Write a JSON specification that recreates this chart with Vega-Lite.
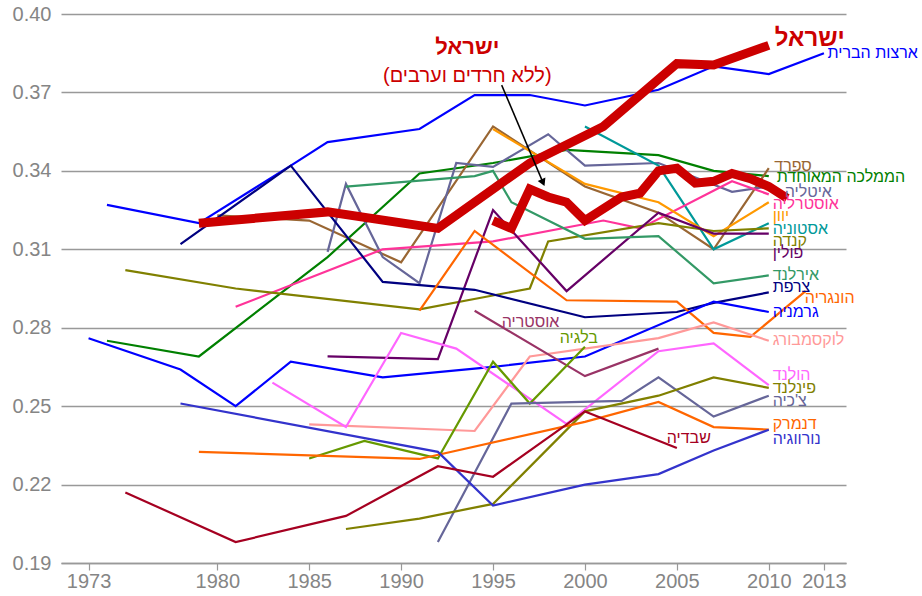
{
  "$schema": "https://vega.github.io/schema/vega-lite/v6.json",
  "width": 785,
  "height": 549,
  "autosize": "none",
  "padding": {"left": 61, "top": 14, "right": 76, "bottom": 33},
  "background": "white",
  "config": {
    "view": {"stroke": null},
    "font": "Liberation Sans",
    "axis": {"labelFont": "Liberation Sans", "labelFontSize": 20, "labelColor": "#858585"}
  },
  "datasets": {
    "countries": [
      {"c": "ארצות הברית", "y": 1974, "v": 0.327}, {"c": "ארצות הברית", "y": 1979, "v": 0.320}, {"c": "ארצות הברית", "y": 1984, "v": 0.342}, {"c": "ארצות הברית", "y": 1986, "v": 0.351}, {"c": "ארצות הברית", "y": 1991, "v": 0.356}, {"c": "ארצות הברית", "y": 1994, "v": 0.369}, {"c": "ארצות הברית", "y": 1997, "v": 0.369}, {"c": "ארצות הברית", "y": 2000, "v": 0.365}, {"c": "ארצות הברית", "y": 2004, "v": 0.371}, {"c": "ארצות הברית", "y": 2007, "v": 0.380}, {"c": "ארצות הברית", "y": 2010, "v": 0.377}, {"c": "ארצות הברית", "y": 2013, "v": 0.385},
      {"c": "הממלכה המאוחדת", "y": 1974, "v": 0.275}, {"c": "הממלכה המאוחדת", "y": 1979, "v": 0.269}, {"c": "הממלכה המאוחדת", "y": 1986, "v": 0.307}, {"c": "הממלכה המאוחדת", "y": 1991, "v": 0.339}, {"c": "הממלכה המאוחדת", "y": 1995, "v": 0.343}, {"c": "הממלכה המאוחדת", "y": 1999, "v": 0.348}, {"c": "הממלכה המאוחדת", "y": 2004, "v": 0.346}, {"c": "הממלכה המאוחדת", "y": 2007, "v": 0.340}, {"c": "הממלכה המאוחדת", "y": 2010, "v": 0.338},
      {"c": "ספרד", "y": 1980, "v": 0.323}, {"c": "ספרד", "y": 1985, "v": 0.321}, {"c": "ספרד", "y": 1990, "v": 0.305}, {"c": "ספרד", "y": 1995, "v": 0.357}, {"c": "ספרד", "y": 2000, "v": 0.334}, {"c": "ספרד", "y": 2004, "v": 0.324}, {"c": "ספרד", "y": 2007, "v": 0.310}, {"c": "ספרד", "y": 2010, "v": 0.341},
      {"c": "איטליה", "y": 1986, "v": 0.309}, {"c": "איטליה", "y": 1987, "v": 0.335}, {"c": "איטליה", "y": 1989, "v": 0.307}, {"c": "איטליה", "y": 1991, "v": 0.297}, {"c": "איטליה", "y": 1993, "v": 0.343}, {"c": "איטליה", "y": 1995, "v": 0.3415}, {"c": "איטליה", "y": 1998, "v": 0.354}, {"c": "איטליה", "y": 2000, "v": 0.342}, {"c": "איטליה", "y": 2004, "v": 0.343}, {"c": "איטליה", "y": 2008, "v": 0.332}, {"c": "איטליה", "y": 2010, "v": 0.334},
      {"c": "אסטוניה", "y": 2000, "v": 0.357}, {"c": "אסטוניה", "y": 2004, "v": 0.342}, {"c": "אסטוניה", "y": 2007, "v": 0.310}, {"c": "אסטוניה", "y": 2010, "v": 0.320},
      {"c": "אוסטרליה", "y": 1981, "v": 0.288}, {"c": "אוסטרליה", "y": 1989, "v": 0.310}, {"c": "אוסטרליה", "y": 1995, "v": 0.313}, {"c": "אוסטרליה", "y": 2001, "v": 0.321}, {"c": "אוסטרליה", "y": 2003, "v": 0.318}, {"c": "אוסטרליה", "y": 2008, "v": 0.336}, {"c": "אוסטרליה", "y": 2010, "v": 0.331},
      {"c": "יוון", "y": 1995, "v": 0.356}, {"c": "יוון", "y": 2000, "v": 0.335}, {"c": "יוון", "y": 2004, "v": 0.328}, {"c": "יוון", "y": 2007, "v": 0.315}, {"c": "יוון", "y": 2010, "v": 0.328},
      {"c": "קנדה", "y": 1975, "v": 0.302}, {"c": "קנדה", "y": 1981, "v": 0.295}, {"c": "קנדה", "y": 1991, "v": 0.287}, {"c": "קנדה", "y": 1997, "v": 0.295}, {"c": "קנדה", "y": 1998, "v": 0.313}, {"c": "קנדה", "y": 2004, "v": 0.320}, {"c": "קנדה", "y": 2007, "v": 0.317}, {"c": "קנדה", "y": 2010, "v": 0.318},
      {"c": "פולין", "y": 1986, "v": 0.269}, {"c": "פולין", "y": 1992, "v": 0.268}, {"c": "פולין", "y": 1995, "v": 0.325}, {"c": "פולין", "y": 1999, "v": 0.294}, {"c": "פולין", "y": 2004, "v": 0.324}, {"c": "פולין", "y": 2007, "v": 0.316}, {"c": "פולין", "y": 2010, "v": 0.316},
      {"c": "אירלנד", "y": 1987, "v": 0.334}, {"c": "אירלנד", "y": 1994, "v": 0.338}, {"c": "אירלנד", "y": 1995, "v": 0.340}, {"c": "אירלנד", "y": 1996, "v": 0.328}, {"c": "אירלנד", "y": 2000, "v": 0.314}, {"c": "אירלנד", "y": 2004, "v": 0.315}, {"c": "אירלנד", "y": 2007, "v": 0.297}, {"c": "אירלנד", "y": 2010, "v": 0.300},
      {"c": "צרפת", "y": 1978, "v": 0.312}, {"c": "צרפת", "y": 1984, "v": 0.342}, {"c": "צרפת", "y": 1989, "v": 0.2975}, {"c": "צרפת", "y": 1994, "v": 0.2945}, {"c": "צרפת", "y": 2000, "v": 0.284}, {"c": "צרפת", "y": 2005, "v": 0.286}, {"c": "צרפת", "y": 2007, "v": 0.2895}, {"c": "צרפת", "y": 2010, "v": 0.2935},
      {"c": "הונגריה", "y": 1991, "v": 0.2865}, {"c": "הונגריה", "y": 1994, "v": 0.317}, {"c": "הונגריה", "y": 1999, "v": 0.2905}, {"c": "הונגריה", "y": 2005, "v": 0.290}, {"c": "הונגריה", "y": 2007, "v": 0.278}, {"c": "הונגריה", "y": 2009, "v": 0.2765}, {"c": "הונגריה", "y": 2012, "v": 0.294},
      {"c": "גרמניה", "y": 1973, "v": 0.276}, {"c": "גרמניה", "y": 1978, "v": 0.264}, {"c": "גרמניה", "y": 1981, "v": 0.250}, {"c": "גרמניה", "y": 1984, "v": 0.267}, {"c": "גרמניה", "y": 1989, "v": 0.261}, {"c": "גרמניה", "y": 1995, "v": 0.265}, {"c": "גרמניה", "y": 2000, "v": 0.269}, {"c": "גרמניה", "y": 2007, "v": 0.290}, {"c": "גרמניה", "y": 2010, "v": 0.286},
      {"c": "לוקסמבורג", "y": 1985, "v": 0.243}, {"c": "לוקסמבורג", "y": 1994, "v": 0.2405}, {"c": "לוקסמבורג", "y": 1997, "v": 0.269}, {"c": "לוקסמבורג", "y": 2004, "v": 0.276}, {"c": "לוקסמבורג", "y": 2007, "v": 0.282}, {"c": "לוקסמבורג", "y": 2010, "v": 0.275},
      {"c": "הולנד", "y": 1983, "v": 0.259}, {"c": "הולנד", "y": 1987, "v": 0.242}, {"c": "הולנד", "y": 1990, "v": 0.278}, {"c": "הולנד", "y": 1993, "v": 0.272}, {"c": "הולנד", "y": 1999, "v": 0.2432}, {"c": "הולנד", "y": 2004, "v": 0.271}, {"c": "הולנד", "y": 2007, "v": 0.274}, {"c": "הולנד", "y": 2010, "v": 0.258},
      {"c": "אוסטריה", "y": 1994, "v": 0.2865}, {"c": "אוסטריה", "y": 2000, "v": 0.2615}, {"c": "אוסטריה", "y": 2004, "v": 0.272},
      {"c": "בלגיה", "y": 1985, "v": 0.230}, {"c": "בלגיה", "y": 1988, "v": 0.2367}, {"c": "בלגיה", "y": 1992, "v": 0.230}, {"c": "בלגיה", "y": 1995, "v": 0.267}, {"c": "בלגיה", "y": 1997, "v": 0.251}, {"c": "בלגיה", "y": 2000, "v": 0.2727},
      {"c": "צ'כיה", "y": 1992, "v": 0.198}, {"c": "צ'כיה", "y": 1996, "v": 0.251}, {"c": "צ'כיה", "y": 2002, "v": 0.252}, {"c": "צ'כיה", "y": 2004, "v": 0.261}, {"c": "צ'כיה", "y": 2007, "v": 0.246}, {"c": "צ'כיה", "y": 2010, "v": 0.254},
      {"c": "פינלנד", "y": 1987, "v": 0.203}, {"c": "פינלנד", "y": 1991, "v": 0.207}, {"c": "פינלנד", "y": 1995, "v": 0.2126}, {"c": "פינלנד", "y": 2000, "v": 0.248}, {"c": "פינלנד", "y": 2004, "v": 0.254}, {"c": "פינלנד", "y": 2007, "v": 0.261}, {"c": "פינלנד", "y": 2010, "v": 0.257},
      {"c": "דנמרק", "y": 1979, "v": 0.2325}, {"c": "דנמרק", "y": 1991, "v": 0.2298}, {"c": "דנמרק", "y": 2000, "v": 0.244}, {"c": "דנמרק", "y": 2004, "v": 0.2516}, {"c": "דנמרק", "y": 2007, "v": 0.242}, {"c": "דנמרק", "y": 2010, "v": 0.241},
      {"c": "נורווגיה", "y": 1978, "v": 0.251}, {"c": "נורווגיה", "y": 1992, "v": 0.2325}, {"c": "נורווגיה", "y": 1995, "v": 0.212}, {"c": "נורווגיה", "y": 2000, "v": 0.220}, {"c": "נורווגיה", "y": 2004, "v": 0.224}, {"c": "נורווגיה", "y": 2007, "v": 0.233}, {"c": "נורווגיה", "y": 2010, "v": 0.241},
      {"c": "שבדיה", "y": 1975, "v": 0.217}, {"c": "שבדיה", "y": 1981, "v": 0.198}, {"c": "שבדיה", "y": 1987, "v": 0.208}, {"c": "שבדיה", "y": 1992, "v": 0.227}, {"c": "שבדיה", "y": 1995, "v": 0.223}, {"c": "שבדיה", "y": 2000, "v": 0.248}, {"c": "שבדיה", "y": 2005, "v": 0.234}
    ],
    "israel": [
      {"c": "ישראל", "y": 1979, "v": 0.320}, {"c": "ישראל", "y": 1986, "v": 0.3243}, {"c": "ישראל", "y": 1992, "v": 0.318}, {"c": "ישראל", "y": 1997, "v": 0.343}, {"c": "ישראל", "y": 2001, "v": 0.357}, {"c": "ישראל", "y": 2005, "v": 0.381}, {"c": "ישראל", "y": 2007, "v": 0.3805}, {"c": "ישראל", "y": 2010, "v": 0.388},
      {"c": "ישראל ללא חרדים וערבים", "y": 1995, "v": 0.321}, {"c": "ישראל ללא חרדים וערבים", "y": 1996, "v": 0.318}, {"c": "ישראל ללא חרדים וערבים", "y": 1997, "v": 0.333}, {"c": "ישראל ללא חרדים וערבים", "y": 1998, "v": 0.330}, {"c": "ישראל ללא חרדים וערבים", "y": 1999, "v": 0.328}, {"c": "ישראל ללא חרדים וערבים", "y": 2000, "v": 0.321}, {"c": "ישראל ללא חרדים וערבים", "y": 2002, "v": 0.330}, {"c": "ישראל ללא חרדים וערבים", "y": 2003, "v": 0.3315}, {"c": "ישראל ללא חרדים וערבים", "y": 2004, "v": 0.340}, {"c": "ישראל ללא חרדים וערבים", "y": 2005, "v": 0.341}, {"c": "ישראל ללא חרדים וערבים", "y": 2006, "v": 0.3353}, {"c": "ישראל ללא חרדים וערבים", "y": 2007, "v": 0.336}, {"c": "ישראל ללא חרדים וערבים", "y": 2008, "v": 0.339}, {"c": "ישראל ללא חרדים וערבים", "y": 2009, "v": 0.337}, {"c": "ישראל ללא חרדים וערבים", "y": 2010, "v": 0.334}, {"c": "ישראל ללא חרדים וערבים", "y": 2011, "v": 0.3295}
    ],
    "labels": [
      {"c": "ארצות הברית", "x": 2013.2, "v": 0.3851},
      {"c": "ספרד", "x": 2010.3, "v": 0.3419},
      {"c": "הממלכה המאוחדת", "x": 2010.43, "v": 0.3377},
      {"c": "איטליה", "x": 2010.87, "v": 0.332},
      {"c": "אוסטרליה", "x": 2010.21, "v": 0.3273},
      {"c": "יוון", "x": 2010.21, "v": 0.3228},
      {"c": "אסטוניה", "x": 2010.21, "v": 0.3178},
      {"c": "קנדה", "x": 2010.21, "v": 0.3132},
      {"c": "פולין", "x": 2010.21, "v": 0.3086},
      {"c": "אירלנד", "x": 2010.21, "v": 0.300},
      {"c": "צרפת", "x": 2010.21, "v": 0.2956},
      {"c": "הונגריה", "x": 2011.96, "v": 0.2914},
      {"c": "גרמניה", "x": 2010.21, "v": 0.286},
      {"c": "לוקסמבורג", "x": 2010.21, "v": 0.2753},
      {"c": "הולנד", "x": 2010.21, "v": 0.262},
      {"c": "פינלנד", "x": 2010.21, "v": 0.257},
      {"c": "צ'כיה", "x": 2010.21, "v": 0.252},
      {"c": "דנמרק", "x": 2010.21, "v": 0.2432},
      {"c": "נורווגיה", "x": 2010.21, "v": 0.2375},
      {"c": "שבדיה", "x": 2004.45, "v": 0.2379},
      {"c": "אוסטריה", "x": 1995.47, "v": 0.2822},
      {"c": "בלגיה", "x": 1998.63, "v": 0.2761}
    ]
  },
  "layer": [
    {
      "data": {"name": "countries"},
      "mark": {"type": "line", "strokeWidth": 2.2, "clip": true},
      "encoding": {
        "x": {"field": "y", "type": "quantitative", "scale": {"domain": [1971.5, 2014.2], "nice": false, "zero": false},
          "axis": {"values": [1973, 1980, 1985, 1990, 1995, 2000, 2005, 2010, 2013], "format": "d", "title": null, "grid": false, "domain": true, "domainColor": "#999999", "domainWidth": 1.5, "ticks": true, "tickColor": "#999999", "tickSize": 7, "tickWidth": 1.2, "labelPadding": 1}},
        "y": {"field": "v", "type": "quantitative", "scale": {"domain": [0.19, 0.40], "nice": false, "zero": false},
          "axis": {"values": [0.19, 0.22, 0.25, 0.28, 0.31, 0.34, 0.37, 0.40], "format": ".2f", "title": null, "grid": true, "gridColor": "#999999", "gridWidth": 1.3, "domain": false, "ticks": false, "labelPadding": 10}},
        "detail": {"field": "c", "type": "nominal"},
        "color": {"field": "c", "type": "nominal", "legend": null,
          "scale": {
            "domain": ["ארצות הברית", "ישראל", "ישראל ללא חרדים וערבים", "הממלכה המאוחדת", "ספרד", "איטליה", "אסטוניה", "אוסטרליה", "יוון", "קנדה", "פולין", "אירלנד", "צרפת", "הונגריה", "גרמניה", "לוקסמבורג", "הולנד", "אוסטריה", "בלגיה", "צ'כיה", "פינלנד", "דנמרק", "נורווגיה", "שבדיה"],
            "range": ["#0000FF", "#CC0000", "#CC0000", "#008000", "#996633", "#666699", "#009999", "#FF3399", "#FF9900", "#808000", "#660066", "#339966", "#000080", "#FF6600", "#0000FF", "#FF9999", "#FF66FF", "#993366", "#669900", "#666699", "#808000", "#FF6600", "#3333CC", "#A50021"]
          }}
      }
    },
    {
      "data": {"name": "israel"},
      "mark": {"type": "line", "strokeWidth": 9, "clip": true},
      "encoding": {
        "x": {"field": "y", "type": "quantitative"},
        "y": {"field": "v", "type": "quantitative"},
        "detail": {"field": "c", "type": "nominal"},
        "color": {"field": "c", "type": "nominal", "legend": null}
      }
    },
    {
      "data": {"name": "labels"},
      "mark": {"type": "text", "align": "left", "baseline": "middle", "fontSize": 16, "font": "Liberation Sans"},
      "encoding": {
        "x": {"field": "x", "type": "quantitative"},
        "y": {"field": "v", "type": "quantitative"},
        "text": {"field": "c"},
        "color": {"field": "c", "type": "nominal", "legend": null}
      }
    },
    {
      "data": {"values": [{"t": "ישראל", "x": 2010.33, "v": 0.3905}]},
      "mark": {"type": "text", "align": "left", "baseline": "middle", "fontSize": 24, "fontWeight": "bold", "font": "Liberation Sans", "color": "#CC0000"},
      "encoding": {
        "x": {"field": "x", "type": "quantitative"},
        "y": {"field": "v", "type": "quantitative"},
        "text": {"field": "t"}
      }
    },
    {
      "data": {"values": [{"t": "ישראל", "x": 1993.6, "v": 0.3874}]},
      "mark": {"type": "text", "align": "center", "baseline": "middle", "fontSize": 22, "fontWeight": "bold", "font": "Liberation Sans", "color": "#CC0000"},
      "encoding": {
        "x": {"field": "x", "type": "quantitative"},
        "y": {"field": "v", "type": "quantitative"},
        "text": {"field": "t"}
      }
    },
    {
      "data": {"values": [{"t": "(ללא חרדים וערבים)", "x": 1993.6, "v": 0.3763}]},
      "mark": {"type": "text", "align": "center", "baseline": "middle", "fontSize": 20, "font": "Liberation Sans", "color": "#CC0000"},
      "encoding": {
        "x": {"field": "x", "type": "quantitative"},
        "y": {"field": "v", "type": "quantitative"},
        "text": {"field": "t"}
      }
    },
    {
      "data": {"values": [{"x": 1995.47, "v": 0.3728, "x2": 1997.72, "v2": 0.3355}]},
      "mark": {"type": "rule", "color": "black", "strokeWidth": 1.5},
      "encoding": {
        "x": {"field": "x", "type": "quantitative"},
        "y": {"field": "v", "type": "quantitative"},
        "x2": {"field": "x2"},
        "y2": {"field": "v2"}
      }
    },
    {
      "data": {"values": [{"x": 1997.72, "v": 0.3355}]},
      "mark": {"type": "point", "shape": "triangle-down", "filled": true, "color": "black", "size": 70, "angle": 336, "opacity": 1},
      "encoding": {
        "x": {"field": "x", "type": "quantitative"},
        "y": {"field": "v", "type": "quantitative"}
      }
    }
  ]
}
